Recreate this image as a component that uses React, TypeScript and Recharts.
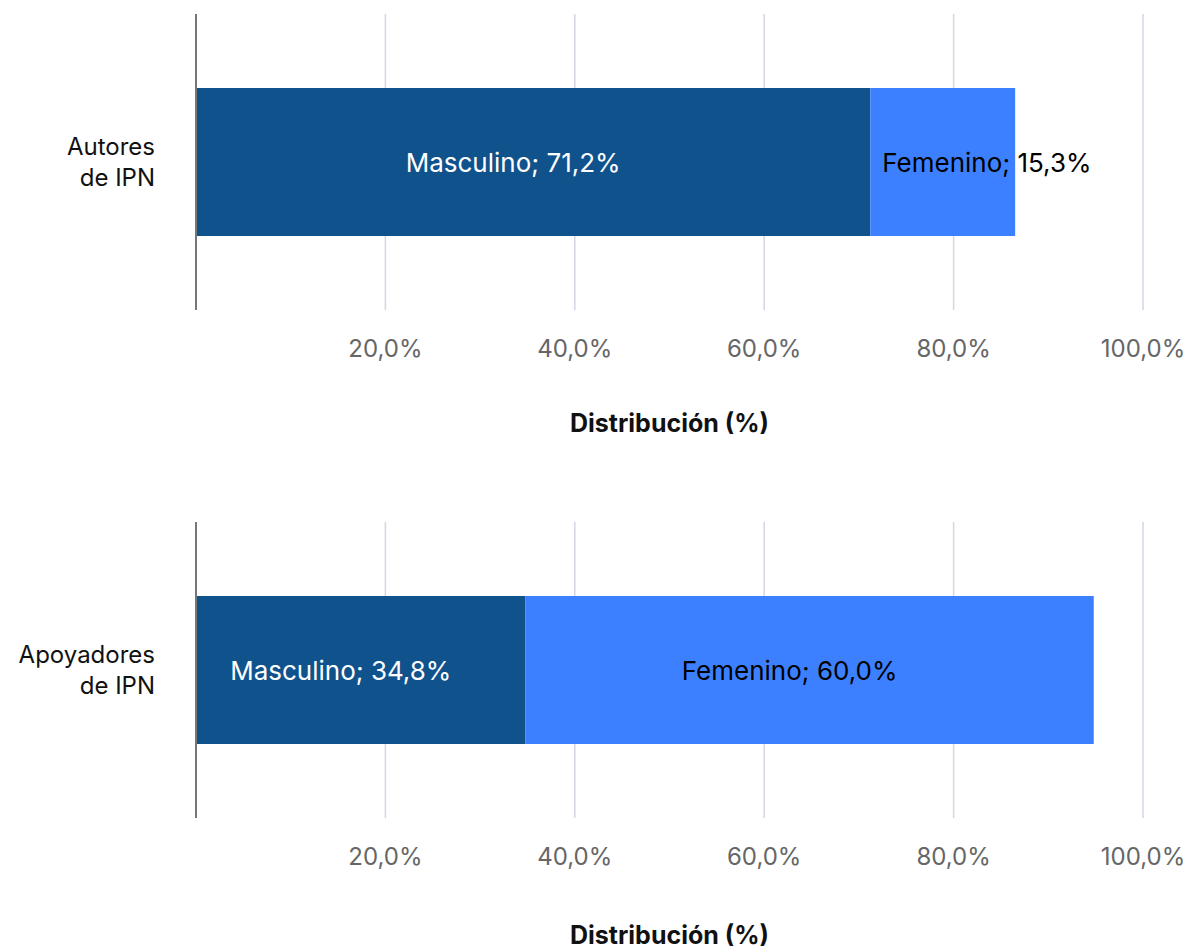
import * as React from "react";
import { BarChart, Bar, XAxis, YAxis, CartesianGrid, LabelList, Label } from "recharts";

const seriesNames = ["Masculino", "Femenino"];
const seriesColors = ["#0F528C", "#3D80FF"];
const labelColors = ["#FFFFFF", "#000000"];

const autoresCategory = ["Autores de IPN"];
const autoresMasculino = [71.2];
const autoresFemenino = [15.3];

const apoyadoresCategory = ["Apoyadores de IPN"];
const apoyadoresMasculino = [34.8];
const apoyadoresFemenino = [60.0];

const xTicks = [20, 40, 60, 80, 100];
const axisTitle = "Distribución (%)";

const FONT = "Inter, 'Noto Sans', sans-serif";
const PLOT_BOTTOM = 310;
const AXIS_H = 60;

const fmt = (v: number) => v.toFixed(1).replace(".", ",") + "%";

function buildRows(cats: string[], masc: number[], fem: number[]) {
    return cats.map((name, i) => ({ name, masculino: masc[i], femenino: fem[i] }));
}

function CategoryTick(props: any) {
    const { x, y, payload } = props;
    const text: string = payload.value;
    const cut = text.indexOf(" ");
    const lines = cut > 0 ? [text.slice(0, cut), text.slice(cut + 1)] : [text];
    return (
        <text x={x} y={y} textAnchor="end" fill="#111" fontSize={24} fontFamily={FONT}>
            {lines.map((l, i) => (
                <tspan key={i} x={x} dy={i === 0 ? -7 : 31}>
                    {l}
                </tspan>
            ))}
        </text>
    );
}

function makeBarLabel(series: string, color: string) {
    return (props: any) => {
        const { x, y, width, height, value } = props;
        const text = `${series}; ${fmt(value)}`;
        const estWidth = text.length * 13.5;
        const fits = estWidth < width - 24;
        return (
            <text
                x={fits ? x + width / 2 - 20 : x + 12}
                y={y + height / 2}
                textAnchor={fits ? "middle" : "start"}
                dominantBaseline="central"
                fill={color}
                fontSize={26}
                fontFamily={FONT}
            >
                {text}
            </text>
        );
    };
}

function GenderChart({ rows, height, titleOffset }: { rows: any[]; height: number; titleOffset: number }) {
    return (
        <BarChart
            width={1192}
            height={height}
            data={rows}
            layout="vertical"
            barCategoryGap="25%"
            margin={{ top: 14, right: 49, bottom: height - PLOT_BOTTOM - AXIS_H, left: 0 }}
        >
            <CartesianGrid horizontal={false} stroke="#D3D6E4" strokeWidth={1.5} />
            <XAxis
                type="number"
                domain={[0, 100]}
                ticks={xTicks}
                tickFormatter={fmt}
                axisLine={false}
                tickLine={false}
                tickMargin={24}
                height={AXIS_H}
                tick={{ fill: "#666666", fontSize: 24, fontFamily: FONT }}
            >
                <Label
                    value={axisTitle}
                    position="bottom"
                    offset={titleOffset}
                    style={{ fontSize: 25, fontWeight: 700, fill: "#111", fontFamily: FONT }}
                />
            </XAxis>
            <YAxis
                type="category"
                dataKey="name"
                width={196}
                axisLine={{ stroke: "#777777", strokeWidth: 2 }}
                tickLine={false}
                tick={<CategoryTick />}
                tickMargin={35}
            />
            <Bar dataKey="masculino" stackId="g" fill={seriesColors[0]} isAnimationActive={false}>
                <LabelList dataKey="masculino" content={makeBarLabel(seriesNames[0], labelColors[0])} />
            </Bar>
            <Bar dataKey="femenino" stackId="g" fill={seriesColors[1]} isAnimationActive={false}>
                <LabelList dataKey="femenino" content={makeBarLabel(seriesNames[1], labelColors[1])} />
            </Bar>
        </BarChart>
    );
}

export default function App() {
    const top = buildRows(autoresCategory, autoresMasculino, autoresFemenino);
    const bottom = buildRows(apoyadoresCategory, apoyadoresMasculino, apoyadoresFemenino);
    return (
        <div style={{ position: "absolute", left: 0, top: 0, width: 1192, height: 952, background: "#fff" }}>
            <GenderChart rows={top} height={508} titleOffset={44} />
            <GenderChart rows={bottom} height={444} titleOffset={48} />
        </div>
    );
}
